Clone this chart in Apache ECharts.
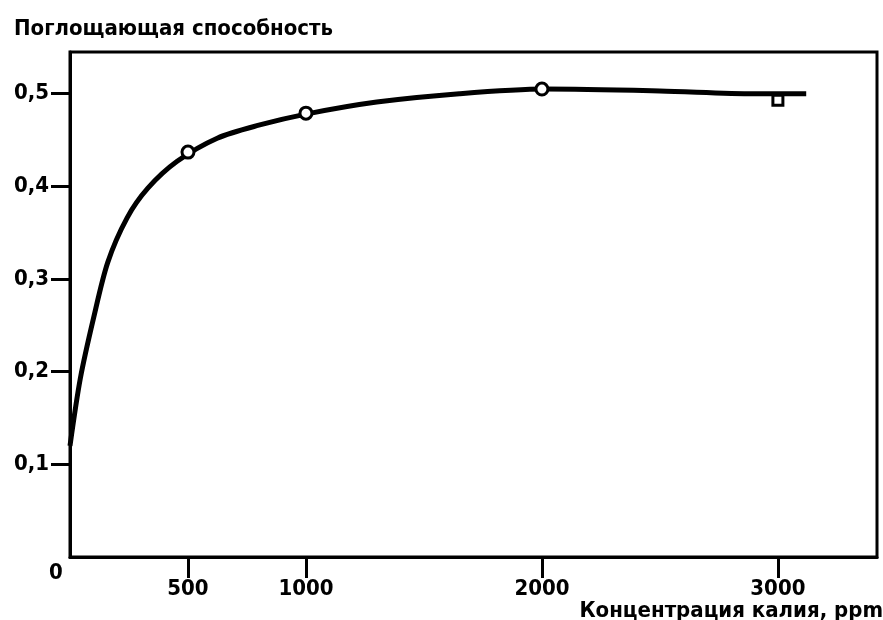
<!DOCTYPE html>
<html>
<head>
<meta charset="utf-8">
<script src="https://cdn.jsdelivr.net/npm/echarts@6/dist/echarts.min.js"></script>
<style>
html,body{margin:0;padding:0;background:#fff;}
#chart{width:883px;height:620px;}
</style>
</head>
<body>
<div id="chart"></div>
<script>
// Smooth calibration curve (x = ppm, y = absorbance)
const curveX = [0, 44, 100, 160, 242, 330, 454, 624, 800, 1000, 1300, 1650, 2012, 2500, 2900, 3120];
const curveY = [0.12, 0.193, 0.258, 0.318, 0.366, 0.398, 0.427, 0.452, 0.466, 0.478, 0.491, 0.5, 0.505, 0.503, 0.5, 0.5];
// Measured points
const pointX = [500, 1000, 2000];
const pointY = [0.437, 0.479, 0.505];
const squareX = [3000];
const squareY = [0.493];
// Tick labels
const xTicks = [500, 1000, 2000, 3000];
const yTicks = [0.1, 0.2, 0.3, 0.4, 0.5];
const yTitle = 'Поглощающая способность';
const xTitle = 'Концентрация калия, ppm';
const originLabel = '0';

const FONT = '"DejaVu Sans Condensed", "Liberation Sans Narrow", "Liberation Sans", sans-serif';

const chart = echarts.init(document.getElementById('chart'), null, {renderer: 'canvas'});
const zip = (a, b) => a.map((v, i) => [v, b[i]]);

const titles = () => [
  {type: 'text', left: 14, top: 18, style: {text: yTitle, fill: '#000', font: 'bold 22px ' + FONT}},
  {type: 'text', right: 0, top: 600, style: {text: xTitle, fill: '#000', font: 'bold 22px ' + FONT}}
];

const option = {
  animation: false,
  backgroundColor: '#fff',
  grid: {left: 70, right: 6, top: 52, bottom: 63, show: true, borderColor: '#000', borderWidth: 3, containLabel: false},
  xAxis: {
    type: 'value', min: 0, max: 3420,
    axisLine: {show: true, lineStyle: {color: '#000', width: 3}},
    axisTick: {show: true, customValues: xTicks, length: 21, lineStyle: {color: '#000', width: 3}},
    axisLabel: {customValues: xTicks, color: '#000', fontFamily: FONT, fontWeight: 'bold', fontSize: 22, margin: 21,
      formatter: v => String(v)},
    splitLine: {show: false}
  },
  yAxis: {
    type: 'value', min: 0, max: 0.545,
    axisLine: {show: true, lineStyle: {color: '#000', width: 3}},
    axisTick: {show: true, customValues: yTicks, length: 19, lineStyle: {color: '#000', width: 3}},
    axisLabel: {customValues: yTicks, color: '#000', fontFamily: FONT, fontWeight: 'bold', fontSize: 22, margin: 21,
      formatter: v => v.toFixed(1).replace('.', ',')},
    splitLine: {show: false}
  },
  series: [
    {
      type: 'line', data: zip(curveX, curveY), smooth: 0.3, showSymbol: false, symbol: 'none',
      lineStyle: {color: '#000', width: 5}, z: 2
    },
    {
      type: 'scatter', data: zip(pointX, pointY), symbol: 'circle', symbolSize: 12,
      itemStyle: {color: '#fff', borderColor: '#000', borderWidth: 3, opacity: 1}, z: 3
    },
    {
      type: 'scatter', data: zip(squareX, squareY), symbol: 'rect', symbolSize: 10,
      itemStyle: {color: '#fff', borderColor: '#000', borderWidth: 3, opacity: 1}, z: 3
    }
  ],
  graphic: titles()
};
chart.setOption(option);
// origin label "0" placed just below-left of the axis corner
const p = chart.convertToPixel({gridIndex: 0}, [0, 0]);
chart.setOption({graphic: titles().concat([
  {type: 'text', x: p[0] - 14, y: p[1] + 16, style: {text: originLabel, fill: '#000', font: 'bold 22px ' + FONT, align: 'center', verticalAlign: 'middle'}}
])});
</script>
</body>
</html>
